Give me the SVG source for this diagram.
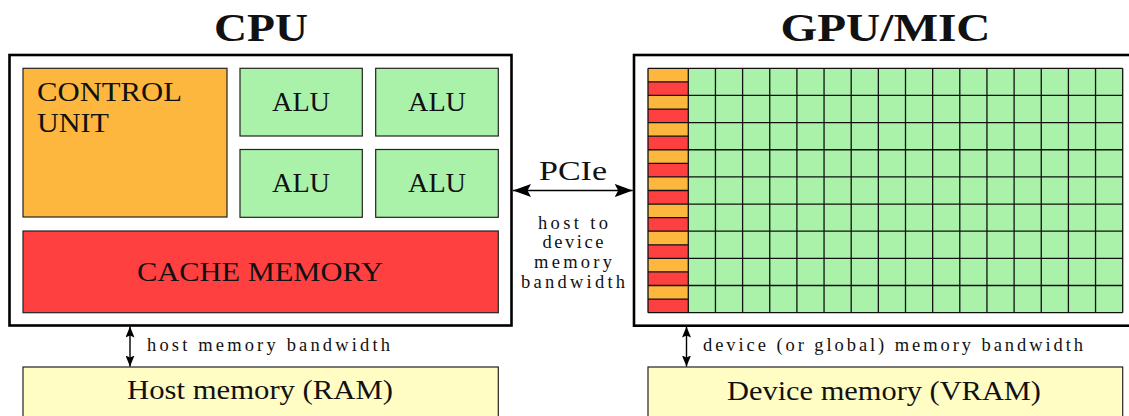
<svg xmlns="http://www.w3.org/2000/svg" width="1129" height="416" viewBox="0 0 1129 416">
<style>
text{font-family:"Liberation Serif","Times New Roman",serif;fill:#111}
.big{font-size:28px}
.small{font-size:18.5px}
.title{font-size:41px;font-weight:bold}
.outer{fill:#fff;stroke:#000;stroke-width:2.6}
.box{stroke:#222;stroke-width:1.2}
.orange{fill:#FDB73E}
.green{fill:#AAF2AA}
.red{fill:#FF4040}
.yellow{fill:#FFFCC4}
.grid{fill:none;stroke:#111;stroke-width:1.3}
.conn{stroke:#000;stroke-width:1.4;fill:none}
</style>
<defs>
<marker id="bigHead" viewBox="0 0 18 13" refX="18" refY="6.5" markerWidth="18" markerHeight="13" markerUnits="userSpaceOnUse" orient="auto-start-reverse">
<path d="M0 0 L18 6.5 L0 13 L3.5 6.5 Z" fill="#000"/>
</marker>
<marker id="smallHead" viewBox="0 0 11 9" refX="11" refY="4.5" markerWidth="11" markerHeight="9" markerUnits="userSpaceOnUse" orient="auto-start-reverse">
<path d="M0 0 L11 4.5 L0 9 L2 4.5 Z" fill="#000"/>
</marker>
</defs>

<g id="cpu">
<text class="title" x="261" y="41" text-anchor="middle" textLength="94" lengthAdjust="spacingAndGlyphs">CPU</text>
<rect class="outer" x="9.5" y="55" width="502" height="270.5"/>
</g>
<g id="control-unit">
<rect class="box orange" x="23" y="68.3" width="204" height="148.7"/>
<text class="big" x="37" y="101" textLength="145" lengthAdjust="spacingAndGlyphs">CONTROL</text>
<text class="big" x="37" y="132" textLength="72" lengthAdjust="spacingAndGlyphs">UNIT</text>
</g>
<g id="alu-1">
<rect class="box green" x="240" y="68.3" width="122.3" height="67.7"/>
<text class="big" x="301" y="110.5" text-anchor="middle" textLength="58" lengthAdjust="spacingAndGlyphs">ALU</text>
</g>
<g id="alu-2">
<rect class="box green" x="375.7" y="68.3" width="122.6" height="67.7"/>
<text class="big" x="437" y="110.5" text-anchor="middle" textLength="58" lengthAdjust="spacingAndGlyphs">ALU</text>
</g>
<g id="alu-3">
<rect class="box green" x="240" y="149.5" width="122.3" height="67.8"/>
<text class="big" x="301" y="192" text-anchor="middle" textLength="58" lengthAdjust="spacingAndGlyphs">ALU</text>
</g>
<g id="alu-4">
<rect class="box green" x="375.7" y="149.5" width="122.6" height="67.8"/>
<text class="big" x="437" y="192" text-anchor="middle" textLength="58" lengthAdjust="spacingAndGlyphs">ALU</text>
</g>
<g id="cache">
<rect class="box red" x="23" y="231" width="475.3" height="81.7"/>
<text class="big" x="260" y="281" text-anchor="middle" textLength="246" lengthAdjust="spacingAndGlyphs">CACHE MEMORY</text>
</g>

<g id="gpu">
<text class="title" x="885.5" y="41" text-anchor="middle" textLength="210" lengthAdjust="spacingAndGlyphs">GPU/MIC</text>
<rect class="outer" x="634" y="55" width="503" height="270.7"/>
</g>
<g id="gpu-grid">
<rect class="orange" x="648" y="68.3" width="40.3" height="244.35"/>
<rect class="red" x="648" y="81.875" width="40.3" height="13.575"/>
<rect class="red" x="648" y="109.025" width="40.3" height="13.575"/>
<rect class="red" x="648" y="136.175" width="40.3" height="13.575"/>
<rect class="red" x="648" y="163.325" width="40.3" height="13.575"/>
<rect class="red" x="648" y="190.475" width="40.3" height="13.575"/>
<rect class="red" x="648" y="217.625" width="40.3" height="13.575"/>
<rect class="red" x="648" y="244.775" width="40.3" height="13.575"/>
<rect class="red" x="648" y="271.925" width="40.3" height="13.575"/>
<rect class="red" x="648" y="299.075" width="40.3" height="13.575"/>
<rect class="green" x="688.3" y="68.3" width="434.4" height="244.35"/>
<path class="grid" d="M648 68.3V312.65
M688.3 68.3V312.65M715.45 68.3V312.65M742.6 68.3V312.65M769.75 68.3V312.65M796.9 68.3V312.65M824.05 68.3V312.65M851.2 68.3V312.65M878.35 68.3V312.65M905.5 68.3V312.65M932.65 68.3V312.65M959.8 68.3V312.65M986.95 68.3V312.65M1014.1 68.3V312.65M1041.25 68.3V312.65M1068.4 68.3V312.65M1095.55 68.3V312.65M1122.7 68.3V312.65
M648 68.3H1122.7M648 95.45H1122.7M648 122.6H1122.7M648 149.75H1122.7M648 176.9H1122.7M648 204.05H1122.7M648 231.2H1122.7M648 258.35H1122.7M648 285.5H1122.7M648 312.65H1122.7
M648 81.875H688.3M648 109.025H688.3M648 136.175H688.3M648 163.325H688.3M648 190.475H688.3M648 217.625H688.3M648 244.775H688.3M648 271.925H688.3M648 299.075H688.3"/>
</g>

<g id="host-memory">
<rect class="box yellow" x="23" y="367" width="475.3" height="60"/>
<text class="big" x="260" y="399" text-anchor="middle" textLength="266" lengthAdjust="spacingAndGlyphs">Host memory (RAM)</text>
</g>
<g id="device-memory">
<rect class="box yellow" x="648" y="367" width="474.7" height="60"/>
<text class="big" x="884" y="400" text-anchor="middle" textLength="314" lengthAdjust="spacingAndGlyphs">Device memory (VRAM)</text>
</g>

<g id="connectors">
<line class="conn" x1="513" y1="190.5" x2="632.7" y2="190.5" marker-start="url(#bigHead)" marker-end="url(#bigHead)"/>
<text class="big" x="573" y="180" text-anchor="middle" textLength="68" lengthAdjust="spacingAndGlyphs">PCIe</text>
<text class="small" x="573" y="229" text-anchor="middle" textLength="70">host to</text>
<text class="small" x="573" y="248" text-anchor="middle" textLength="61">device</text>
<text class="small" x="573" y="268" text-anchor="middle" textLength="78">memory</text>
<text class="small" x="573" y="288" text-anchor="middle" textLength="104">bandwidth</text>
<line class="conn" x1="130" y1="326.5" x2="130" y2="366.5" marker-start="url(#smallHead)" marker-end="url(#smallHead)"/>
<text class="small" x="147" y="351" textLength="243">host memory bandwidth</text>
<line class="conn" x1="686.5" y1="326.5" x2="686.5" y2="366.5" marker-start="url(#smallHead)" marker-end="url(#smallHead)"/>
<text class="small" x="703" y="351" textLength="380">device (or global) memory bandwidth</text>
</g>
</svg>
